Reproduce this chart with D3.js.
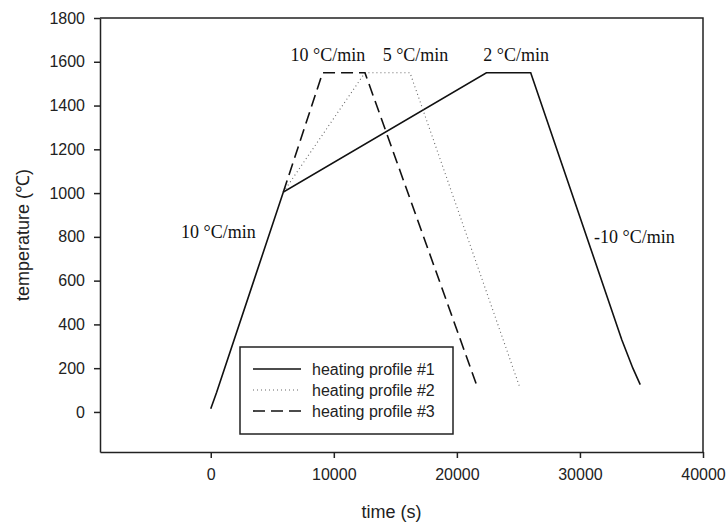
<!DOCTYPE html>
<html>
<head>
<meta charset="utf-8">
<script src="https://cdn.jsdelivr.net/npm/d3@7"></script>
<style>
    body { margin: 0; background: #fff; }
    .axis text { font-family: "Liberation Sans", Arial, sans-serif; font-size: 16px; fill: #222; }
    .axis path, .axis line { stroke: #222; stroke-width: 1.5; }
</style>
</head>
<body>
<div id="chart"></div>
<script>
// heating profiles, time (s) vs temperature (C)
var profile1 = [[0, 15], [480, 90], [5900, 1005], [22400, 1550], [26000, 1550], [33400, 330], [34300, 200], [34900, 125]];
var profile2 = [[5900, 1005], [12530, 1550], [16190, 1550], [25070, 119]];
var profile3 = [[5900, 1005], [9090, 1550], [12530, 1550], [21660, 114]];

var seriesNames = ["heating profile #1", "heating profile #2", "heating profile #3"];
var xTicks = [0, 10000, 20000, 30000, 40000];
var yTicks = [0, 200, 400, 600, 800, 1000, 1200, 1400, 1600, 1800];

// rate labels, anchored at data coords (left/baseline)
var rateLabels = [
    {text: "10 °C/min", t: -2420, temp: 793},
    {text: "10 °C/min", t: 6490, temp: 1604},
    {text: "5 °C/min", t: 13970, temp: 1604},
    {text: "2 °C/min", t: 22140, temp: 1604},
    {text: "-10 °C/min", t: 31140, temp: 770}
];

var width = 728,
    height = 524;
var margin = {left: 100, right: 25, top: 18, bottom: 72};

var svg = d3.select("#chart")
    .append("svg")
    .attr("width", width)
    .attr("height", height);

var x = d3.scaleLinear()
    .domain([-9000, 40000])
    .range([margin.left, width - margin.right]);

var y = d3.scaleLinear()
    .domain([-183, 1800])
    .range([height - margin.bottom, margin.top]);

// frame (top + right)
svg.append("path")
    .attr("d", "M" + x.range()[0] + "," + y.range()[1] + "H" + x.range()[1] + "V" + y.range()[0])
    .attr("fill", "none")
    .attr("stroke", "#222")
    .attr("stroke-width", 1.5);

svg.append("g").attr("class", "axis")
    .attr("transform", "translate(0," + y.range()[0] + ")")
    .call(d3.axisBottom(x).tickValues(xTicks).tickSize(6).tickPadding(11).tickSizeOuter(0).tickFormat(d3.format("d")));

svg.append("g").attr("class", "axis")
    .attr("transform", "translate(" + x.range()[0] + ",0)")
    .call(d3.axisLeft(y).tickValues(yTicks).tickSize(6).tickPadding(9).tickSizeOuter(0).tickFormat(d3.format("d")));

svg.append("text")
    .attr("x", (x.range()[0] + x.range()[1]) / 2 - 10)
    .attr("y", 518)
    .attr("text-anchor", "middle")
    .style("font-family", "Liberation Sans, Arial, sans-serif")
    .style("font-size", "18px")
    .style("fill", "#222")
    .text("time (s)");

svg.append("text")
    .attr("transform", "translate(29,235) rotate(-90)")
    .attr("text-anchor", "middle")
    .style("font-family", "Liberation Sans, Arial, sans-serif")
    .style("font-size", "18px")
    .style("fill", "#222")
    .text("temperature (℃)");

var line = d3.line()
    .x(function (d) { return x(d[0]); })
    .y(function (d) { return y(d[1]); });

var styles = [
    {dash: null, width: 1.6, color: "#111"},
    {dash: "1,3", width: 1.1, color: "#666"},
    {dash: "12,6", width: 1.6, color: "#111"}
];

var plot = svg.append("g");
[profile1, profile2, profile3].forEach(function (p, i) {
    plot.append("path")
        .datum(p)
        .attr("d", line)
        .attr("fill", "none")
        .attr("stroke", styles[i].color)
        .attr("stroke-width", styles[i].width)
        .attr("stroke-dasharray", styles[i].dash);
});

svg.selectAll(".rate")
    .data(rateLabels)
    .enter().append("text")
    .attr("class", "rate")
    .attr("x", function (d) { return x(d.t); })
    .attr("y", function (d) { return y(d.temp); })
    .style("font-family", "Liberation Serif, Times New Roman, serif")
    .style("font-size", "18px")
    .style("fill", "#111")
    .text(function (d) { return d.text; });

// legend
var legend = svg.append("g").attr("transform", "translate(240,347)");
legend.append("rect")
    .attr("width", 213).attr("height", 87)
    .attr("fill", "#fff").attr("stroke", "#222").attr("stroke-width", 1.5);

var rows = legend.selectAll(".row")
    .data(seriesNames)
    .enter().append("g")
    .attr("transform", function (d, i) { return "translate(0," + (22 + i * 21) + ")"; });

rows.append("line")
    .attr("x1", 13).attr("x2", 61)
    .attr("stroke", function (d, i) { return styles[i].color; })
    .attr("stroke-width", function (d, i) { return styles[i].width; })
    .attr("stroke-dasharray", function (d, i) { return styles[i].dash; });

rows.append("text")
    .attr("x", 72)
    .attr("dy", "0.35em")
    .style("font-family", "Liberation Sans, Arial, sans-serif")
    .style("font-size", "16px")
    .style("fill", "#222")
    .text(function (d) { return d; });
</script>
</body>
</html>
